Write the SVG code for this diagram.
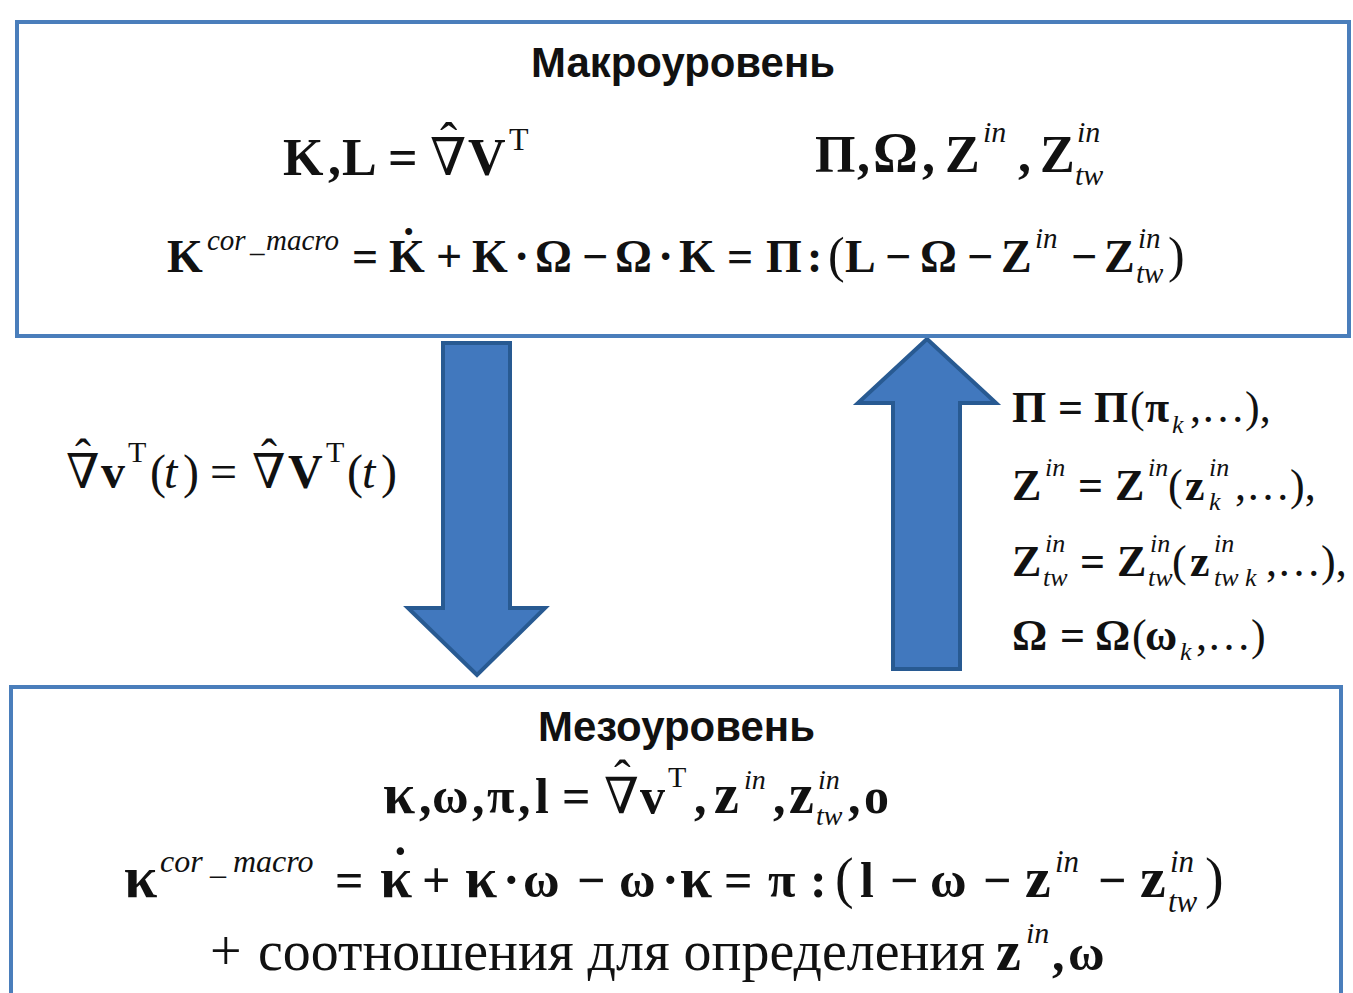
<svg xmlns="http://www.w3.org/2000/svg" width="1353" height="993" viewBox="0 0 1353 993">
<style>
.box{fill:#fff;stroke:#4A7EBB;stroke-width:4}
.arr{fill:#4178BE;stroke:#285A92;stroke-width:4;stroke-linejoin:miter}
.h{font-family:"Liberation Sans",Arial,sans-serif;font-weight:bold;fill:#111}
text{font-family:"Liberation Serif","Times New Roman","DejaVu Serif",serif;fill:#111}
.b{font-weight:bold}
.i{font-style:italic}
</style>
<rect width="1353" height="993" fill="#fff"/>
<g id="connectors">
  <polygon class="arr" points="443,343 510,343 510,608 545,608 477,675 408,608 443,608"/>
  <polygon class="arr" points="927,339 996,403 960,403 960,669 893,669 893,403 858,403"/>
  <g id="label-down" font-size="48">
    <text x="66" y="488">∇</text><text x="75" y="473">ˆ</text>
    <text class="b" x="101" y="488">v</text>
    <text x="128" y="462" font-size="30">T</text>
    <text x="150" y="488">(</text><text class="i" x="164" y="488">t</text><text x="183" y="488">)</text>
    <text x="210" y="488">=</text>
    <text x="252" y="488">∇</text><text x="261" y="473">ˆ</text>
    <text class="b" x="288" y="488">V</text>
    <text x="326" y="462" font-size="30">T</text>
    <text x="347" y="488">(</text><text class="i" x="362" y="488">t</text><text x="381" y="488">)</text>
  </g>
  <g id="label-up" font-size="44">
    <text class="b" x="1012" y="422">Π</text><text class="b" x="1058" y="422">=</text><text class="b" x="1094" y="422">Π</text>
    <text x="1130" y="422">(</text><text class="b" x="1145" y="422">π</text>
    <text class="i" x="1172" y="433" font-size="26">k</text><text x="1190" y="422">,…),</text>

    <text class="b" x="1012" y="500">Z</text><text class="i" x="1045" y="476" font-size="26">in</text>
    <text class="b" x="1078" y="500">=</text>
    <text class="b" x="1115" y="500">Z</text><text class="i" x="1148" y="476" font-size="26">in</text>
    <text x="1168" y="500">(</text><text class="b" x="1185" y="500">z</text>
    <text class="i" x="1209" y="476" font-size="26">in</text><text class="i" x="1209" y="510" font-size="26">k</text>
    <text x="1235" y="500">,…),</text>

    <text class="b" x="1012" y="576">Z</text><text class="i" x="1045" y="552" font-size="26">in</text><text class="i" x="1043" y="586" font-size="26">tw</text>
    <text class="b" x="1080" y="576">=</text>
    <text class="b" x="1117" y="576">Z</text><text class="i" x="1150" y="552" font-size="26">in</text><text class="i" x="1148" y="586" font-size="26">tw</text>
    <text x="1172" y="576">(</text><text class="b" x="1190" y="576">z</text>
    <text class="i" x="1214" y="552" font-size="26">in</text><text class="i" x="1214" y="586" font-size="26">tw k</text>
    <text x="1266" y="576">,…),</text>

    <text class="b" x="1012" y="650">Ω</text><text class="b" x="1060" y="650">=</text><text class="b" x="1095" y="650">Ω</text>
    <text x="1132" y="650">(</text><text class="b" x="1145" y="650">ω</text>
    <text class="i" x="1180" y="660" font-size="26">k</text><text x="1196" y="650">,…)</text>
  </g>
</g>
<g id="macro">
  <rect class="box" x="17" y="22" width="1332" height="314"/>
  <text class="h" x="531" y="77" font-size="42" textLength="304" lengthAdjust="spacingAndGlyphs">Макроуровень</text>
  <g font-size="52">
    <text class="b" x="283" y="175">K</text><text class="b" x="328" y="175">,</text><text class="b" x="342" y="175">L</text>
    <text class="b" x="388" y="175">=</text>
    <text x="430" y="175">∇</text><text x="440" y="159">ˆ</text>
    <text class="b" x="468" y="175">V</text><text x="509" y="150" font-size="32">T</text>

    <text class="b" x="815" y="172">Π</text><text class="b" x="857" y="172">,</text>
    <text class="b" x="873" y="172" font-size="56">Ω</text><text class="b" x="922" y="172">,</text>
    <text class="b" x="945" y="172">Z</text><text class="i" x="983" y="142" font-size="30">in</text>
    <text class="b" x="1018" y="172">,</text>
    <text class="b" x="1040" y="172">Z</text><text class="i" x="1077" y="142" font-size="30">in</text><text class="i" x="1075" y="185" font-size="30">tw</text>
  </g>
  <g font-size="46">
    <text class="b" x="167" y="272">K</text>
    <text class="i" x="207" y="250" font-size="29">cor</text><text class="i" x="250" y="252" font-size="29">_</text><text class="i" x="266" y="250" font-size="29">macro</text>
    <text class="b" x="352" y="272">=</text>
    <text class="b" x="389" y="272">K</text><text class="b" x="401" y="260">˙</text>
    <text class="b" x="436" y="272">+</text>
    <text class="b" x="472" y="272">K</text><text class="b" x="514" y="272">·</text>
    <text class="b" x="535" y="272">Ω</text><text class="b" x="582" y="272">−</text>
    <text class="b" x="615" y="272">Ω</text><text class="b" x="658" y="272">·</text>
    <text class="b" x="679" y="272">K</text><text class="b" x="727" y="272">=</text>
    <text class="b" x="766" y="272">Π</text><text class="b" x="807" y="272">:</text>
    <text x="828" y="272" font-size="50">(</text>
    <text class="b" x="845" y="272">L</text><text class="b" x="885" y="272">−</text>
    <text class="b" x="920" y="272">Ω</text><text class="b" x="967" y="272">−</text>
    <text class="b" x="1001" y="272">Z</text><text class="i" x="1035" y="248" font-size="29">in</text>
    <text class="b" x="1071" y="272">−</text>
    <text class="b" x="1104" y="272">Z</text><text class="i" x="1138" y="248" font-size="29">in</text><text class="i" x="1136" y="283" font-size="29">tw</text>
    <text x="1168" y="272" font-size="50">)</text>
  </g>
</g>
<g id="meso">
  <rect class="box" x="11" y="687" width="1330" height="330"/>
  <text class="h" x="538" y="741" font-size="42" textLength="277" lengthAdjust="spacingAndGlyphs">Мезоуровень</text>
  <g font-size="50">
    <text class="b" x="383" y="813" font-size="58">κ</text><text class="b" x="419" y="813">,</text>
    <text class="b" x="432" y="813">ω</text><text class="b" x="472" y="813">,</text>
    <text class="b" x="487" y="813">π</text><text class="b" x="518" y="813">,</text>
    <text class="b" x="535" y="813">l</text><text class="b" x="562" y="813">=</text>
    <text x="604" y="813">∇</text><text x="614" y="795">ˆ</text>
    <text class="b" x="640" y="813">v</text><text x="668" y="787" font-size="30">T</text>
    <text class="b" x="694" y="813">,</text>
    <text class="b" x="714" y="813" font-size="56">z</text><text class="i" x="744" y="789" font-size="28">in</text>
    <text class="b" x="773" y="813">,</text>
    <text class="b" x="789" y="813" font-size="56">z</text><text class="i" x="818" y="789" font-size="28">in</text><text class="i" x="816" y="825" font-size="28">tw</text>
    <text class="b" x="848" y="813">,</text><text class="b" x="864" y="813">o</text>
  </g>
  <g font-size="50">
    <text class="b" x="124" y="897" font-size="60">κ</text>
    <text class="i" x="160" y="872" font-size="32">cor</text><text class="i" x="210" y="874" font-size="32">_</text><text class="i" x="233" y="872" font-size="32">macro</text>
    <text class="b" x="335" y="897">=</text>
    <text class="b" x="380" y="897" font-size="58">κ</text><text class="b" x="392" y="883">˙</text>
    <text class="b" x="422" y="897">+</text>
    <text class="b" x="465" y="897" font-size="58">κ</text><text class="b" x="503" y="897">·</text>
    <text class="b" x="523" y="897">ω</text><text class="b" x="577" y="897">−</text>
    <text class="b" x="619" y="897">ω</text><text class="b" x="662" y="897">·</text>
    <text class="b" x="680" y="897" font-size="58">κ</text><text class="b" x="724" y="897">=</text>
    <text class="b" x="768" y="897">π</text><text class="b" x="810" y="897">:</text>
    <text x="835" y="897" font-size="56">(</text>
    <text class="b" x="860" y="897">l</text><text class="b" x="890" y="897">−</text>
    <text class="b" x="930" y="897">ω</text><text class="b" x="983" y="897">−</text>
    <text class="b" x="1025" y="897" font-size="58">z</text><text class="i" x="1055" y="872" font-size="31">in</text>
    <text class="b" x="1098" y="897">−</text>
    <text class="b" x="1140" y="897" font-size="58">z</text><text class="i" x="1170" y="872" font-size="31">in</text><text class="i" x="1168" y="912" font-size="31">tw</text>
    <text x="1205" y="897" font-size="56">)</text>
  </g>
  <text x="210" y="970" font-size="56">+</text>
  <text x="258" y="970" font-size="57" textLength="727" lengthAdjust="spacingAndGlyphs">соотношения для определения</text>
  <text class="b" x="996" y="970" font-size="56">z</text><text class="i" x="1026" y="943" font-size="30">in</text>
  <text class="b" x="1052" y="970" font-size="50">,</text><text class="b" x="1068" y="970" font-size="50">ω</text>
</g>
</svg>
